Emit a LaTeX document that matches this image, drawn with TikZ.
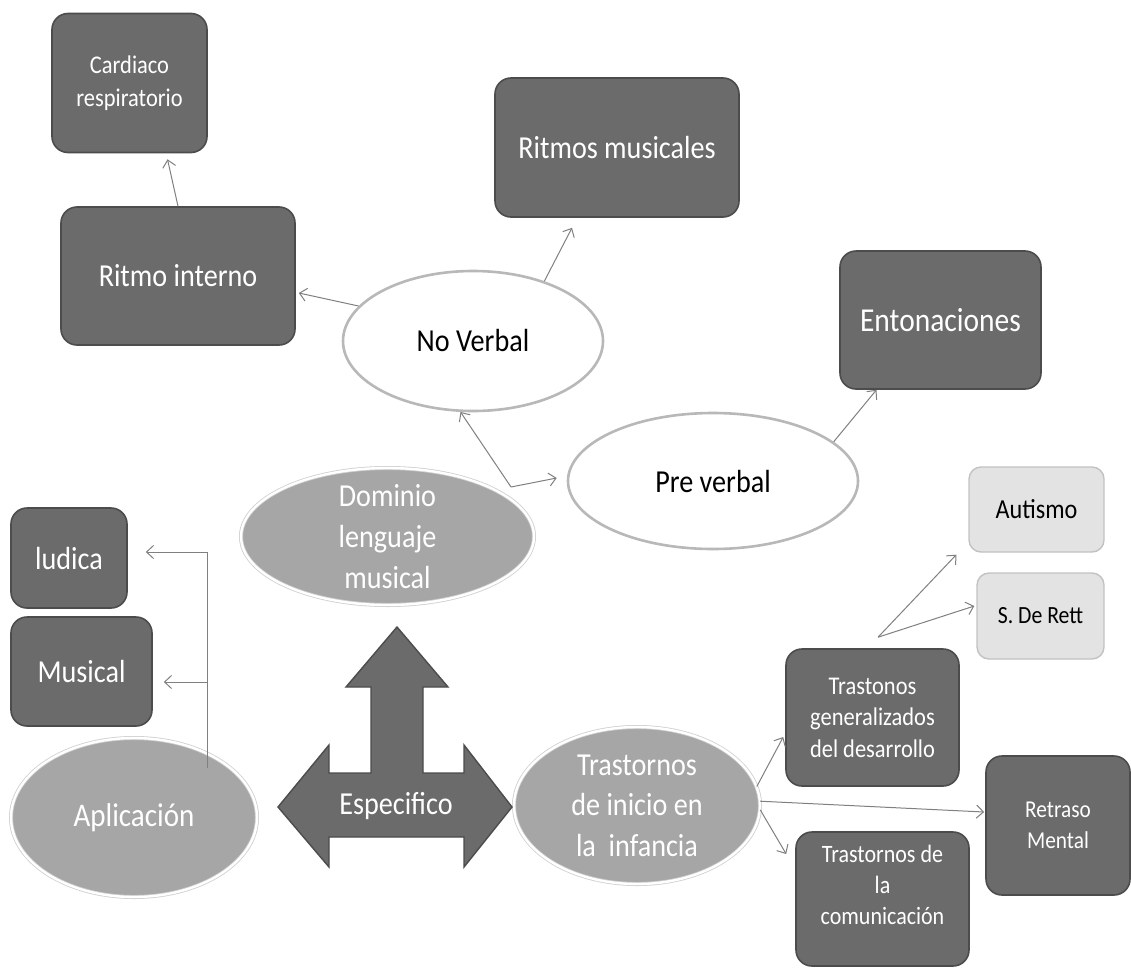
\documentclass[tikz,border=0pt]{standalone}
\usepackage{fontspec}
\setmainfont{Carlito}[FakeStretch=0.88]
\usetikzlibrary{arrows.meta,calc,shapes.geometric}
\definecolor{darkfill}{HTML}{6B6B6B}
\definecolor{darkedge}{HTML}{4C4C4C}
\definecolor{midfill}{HTML}{A6A6A6}
\definecolor{midedge}{HTML}{CFCFCF}
\definecolor{whiteedge}{HTML}{B8B8B8}
\definecolor{lightfill}{HTML}{E3E3E3}
\definecolor{lightedge}{HTML}{C2C2C2}
\definecolor{linegray}{HTML}{808080}
\begin{document}
\begin{tikzpicture}[x=1pt,y=-1pt,
  dbox/.style={rectangle, rounded corners=16pt, fill=darkfill, draw=darkedge, line width=1.6pt, text=white, align=center, inner sep=0pt},
  lbox/.style={rectangle, rounded corners=12pt, fill=lightfill, draw=lightedge, line width=1.4pt, text=black, align=center, inner sep=0pt},
  mell/.style={ellipse, fill=midfill, draw=midedge, double=white, double distance=2.4pt, line width=0.8pt, inner sep=0pt},
  well/.style={ellipse, fill=white, draw=whiteedge, line width=2.6pt, inner sep=0pt, text=black},
  big/.style={font=\fontsize{32}{40}\selectfont},
  conn/.style={draw=linegray, line width=1pt, -{Straight Barb[length=7pt,width=13pt]}},
  arrowshape/.style={fill=darkfill, draw=darkedge, line width=1.4pt, line join=miter}
]
\fill[white] (0,0) rectangle (1131,969);
\useasboundingbox (0,0) rectangle (1131,969);

% dark boxes
\node[dbox, minimum width=155pt, minimum height=139pt, font=\fontsize{25.5}{33}\selectfont] (cardiaco) at (129.5,83) {Cardiaco\\respiratorio};
\node[dbox, big, minimum width=234pt, minimum height=138pt] (ritmo) at (178,276) {Ritmo interno};
\node[dbox, big, minimum width=244pt, minimum height=139pt] (rmus) at (617,147.5) {Ritmos musicales};
\node[dbox, minimum width=201pt, minimum height=138pt, font=\fontsize{33.5}{40}\selectfont] (enton) at (940.5,320) {Entonaciones};
\node[dbox, big, minimum width=116pt, minimum height=100pt] (ludica) at (69,558) {ludica};
\node[dbox, big, minimum width=141pt, minimum height=109pt] (musical) at (81.5,671.5) {Musical};
\node[dbox, minimum width=173pt, minimum height=137pt, font=\fontsize{25.5}{31.5}\selectfont] (tgen) at (872.5,717.5) {Trastonos\\generalizados\\del desarrollo};
\node[dbox, minimum width=144pt, minimum height=139pt, font=\fontsize{24.2}{31}\selectfont] (retraso) at (1058,825.5) {Retraso\\Mental};
\node[dbox, minimum width=173pt, minimum height=134pt,
  label={[font=\fontsize{25}{31}\selectfont, text=white, align=center, yshift=14pt]center:{Trastornos de\\la\\comunicación}}] (tcom) at (882.5,899) {};

% light boxes
\node[lbox, minimum width=135pt, minimum height=85pt, font=\fontsize{27.5}{33}\selectfont] (autismo) at (1036.5,509.5) {Autismo};
\node[lbox, minimum width=127pt, minimum height=86pt, font=\fontsize{24.7}{31}\selectfont] (rett) at (1040.5,616) {S. De Rett};

% white ellipses
\node[well, big, minimum width=260pt, minimum height=140pt] (nov) at (473,341) {No Verbal};
\node[well, big, minimum width=290pt, minimum height=136pt] (prev) at (713,481) {Pre verbal};

% mid ellipses
\node[mell, minimum width=293pt, minimum height=137pt,
  label={[font=\fontsize{32}{41}\selectfont, text=white, align=center]center:{Dominio\\lenguaje\\musical}}] (dom) at (387.5,536.5) {};
\node[mell, minimum width=246pt, minimum height=159pt,
  label={[font=\fontsize{33}{40}\selectfont, text=white]center:{Aplicación}}] (aplic) at (134,817.5) {};
\node[mell, minimum width=246pt, minimum height=157pt,
  label={[font=\fontsize{32}{40.5}\selectfont, text=white, align=center]center:{Trastornos\\de inicio en\\la\ \ infancia}}] (tinicio) at (637,805.5) {};

% specific arrow shape
\draw[arrowshape] (397,627) -- (448,687) -- (423,687) -- (423,773) -- (464,773) -- (464,745)
  -- (512,807) -- (464,867) -- (464,837) -- (329,837) -- (329,867) -- (278,807)
  -- (329,745) -- (329,773) -- (371,773) -- (371,687) -- (346,687) -- cycle;
\node[big, text=white] (esp) at (396,806) {Especifico};

% connectors
\draw[conn] (ritmo.north) -- ([shift={(38pt,-6pt)}]cardiaco.south);
\draw[conn] (nov.163) -- ([shift={(3pt,-17pt)}]ritmo.east);
\draw[conn] (nov.40) -- ([shift={(-45pt,-10pt)}]rmus.south);
\coordinate (split) at (511,487);
\draw[conn] (split) -- (nov.260);
\draw[conn] (split) -- ([shift={(-10pt,3pt)}]prev.west);
\draw[conn] (prev.18) -- ([xshift=-64pt]enton.south);

\coordinate (apl0) at ([shift={(73pt,49.5pt)}]aplic.center);
\coordinate (lend) at ([shift={(18pt,6pt)}]ludica.east);
\coordinate (mend) at ([shift={(11pt,-10.5pt)}]musical.east);
\draw[conn] (apl0) |- (lend);
\draw[conn] (apl0 |- mend) -- (mend);

\draw[conn] (tinicio.9) -- ([shift={(-2pt,-19.5pt)}]tgen.west);
\draw[conn] (tinicio.2) -- ([shift={(-1pt,13.5pt)}]retraso.west);
\draw[conn] (tinicio.-2) -- ([shift={(-9pt,45pt)}]tcom.west);

\coordinate (gsplit) at ([shift={(5.5pt,11pt)}]tgen.north);
\draw[conn] (gsplit) -- ([shift={(-12pt,-2pt)}]autismo.south west);
\draw[conn] (gsplit) -- ([shift={(-2pt,10pt)}]rett.west);
\end{tikzpicture}
\end{document}
